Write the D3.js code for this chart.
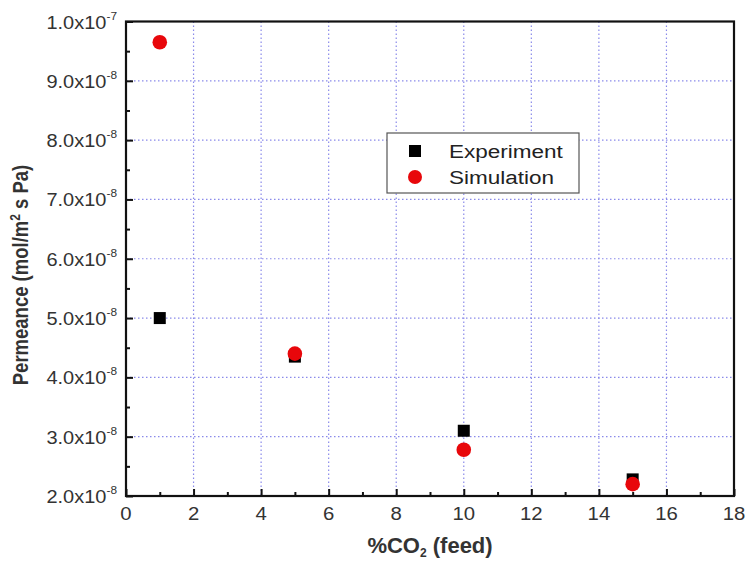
<!DOCTYPE html>
<html>
<head>
<meta charset="utf-8">
<script src="https://cdn.jsdelivr.net/npm/d3@7"></script>
<style>
  body { margin: 0; background: #fff; }
  svg { font-family: Arial, "Liberation Sans", sans-serif; }
</style>
</head>
<body>
<svg id="chart" width="746" height="563"></svg>
<script>
// data
const co2Feed = [1, 5, 10, 15];
const experiment = [5.0e-8, 4.35e-8, 3.1e-8, 2.28e-8];
const simulation = [9.65e-8, 4.4e-8, 2.78e-8, 2.2e-8];
const xTicks = [0, 2, 4, 6, 8, 10, 12, 14, 16, 18];
const yTicks = [2, 3, 4, 5, 6, 7, 8, 9, 10]; // x10^-8
const legendNames = ["Experiment", "Simulation"];

const margin = { top: 21.5, right: 12, bottom: 67, left: 126 };
const W = 746, H = 563;
const width = W - margin.left - margin.right;
const height = H - margin.top - margin.bottom;

const svg = d3.select("#chart");
const g = svg.append("g").attr("transform", `translate(${margin.left},${margin.top})`);

const x = d3.scaleLinear().domain([0, 18]).range([0, width]);
const y = d3.scaleLinear().domain([2e-8, 1e-7]).range([height, 0]);

// the source picture is stretched sideways a bit, so text gets a scaleX
const stretch = 1.1;

// grid
const gridColor = "#8a8aea";
g.append("g").selectAll("line")
  .data(xTicks.filter(d => d > 0 && d < 18))
  .join("line")
    .attr("x1", d => x(d)).attr("x2", d => x(d))
    .attr("y1", 0).attr("y2", height)
    .attr("stroke", gridColor).attr("stroke-width", 1.2)
    .attr("stroke-dasharray", "1.5,2.5");
g.append("g").selectAll("line")
  .data(yTicks.filter(d => d > 2 && d < 10))
  .join("line")
    .attr("x1", 0).attr("x2", width)
    .attr("y1", d => y(d * 1e-8)).attr("y2", d => y(d * 1e-8))
    .attr("stroke", gridColor).attr("stroke-width", 1.2)
    .attr("stroke-dasharray", "1.5,2.5");

// axes with inward ticks
const xAxis = d3.axisBottom(x).tickValues(xTicks).tickSize(-7).tickFormat("");
const xMinor = d3.axisBottom(x).tickValues(d3.range(1, 18, 2)).tickSize(-4).tickFormat("");
const yAxis = d3.axisLeft(y).tickValues(yTicks.map(v => v * 1e-8)).tickSize(-7).tickFormat("");
const yMinor = d3.axisLeft(y).tickValues(d3.range(2.5, 10, 1).map(v => v * 1e-8)).tickSize(-4).tickFormat("");

function styleAxis(sel) {
  sel.select(".domain").remove();
  sel.selectAll("line").attr("stroke", "#111").attr("stroke-width", 2);
}
g.append("g").attr("transform", `translate(0,${height})`).call(xAxis).call(styleAxis);
g.append("g").attr("transform", `translate(0,${height})`).call(xMinor).call(styleAxis);
g.append("g").call(yAxis).call(styleAxis);
g.append("g").call(yMinor).call(styleAxis);

// x tick labels
g.append("g").selectAll("text")
  .data(xTicks)
  .join("text")
    .attr("transform", d => `translate(${x(d)},${height + 24}) scale(${stretch},1)`)
    .attr("text-anchor", "middle")
    .attr("fill", "#333")
    .style("font-size", "18.5px")
    .text(d => d);

// y tick labels with superscripts
const yLab = g.append("g").selectAll("text")
  .data(yTicks)
  .join("text")
    .attr("transform", d => `translate(-9,${y(d * 1e-8) + 7}) scale(1.08,1)`)
    .attr("text-anchor", "end")
    .attr("fill", "#333")
    .style("font-size", "18.5px");
yLab.append("tspan").text(d => d === 10 ? "1.0x10" : d.toFixed(1) + "x10");
yLab.append("tspan").attr("dy", -9).style("font-size", "11px").text(d => d === 10 ? "-7" : "-8");

// frame
g.append("rect").attr("width", width).attr("height", height)
  .attr("fill", "none").attr("stroke", "#111").attr("stroke-width", 2.2);

// points
g.append("g").selectAll("rect")
  .data(co2Feed.map((c, i) => [c, experiment[i]]))
  .join("rect")
    .attr("x", d => x(d[0]) - 6).attr("y", d => y(d[1]) - 6)
    .attr("width", 12).attr("height", 12).attr("fill", "#000");
g.append("g").selectAll("circle")
  .data(co2Feed.map((c, i) => [c, simulation[i]]))
  .join("circle")
    .attr("cx", d => x(d[0])).attr("cy", d => y(d[1]))
    .attr("r", 7.3).attr("fill", "#e8070b");

// legend
const lg = svg.append("g").attr("transform", "translate(387,133)");
lg.append("rect").attr("width", 192).attr("height", 60)
  .attr("fill", "#fff").attr("stroke", "#555").attr("stroke-width", 1.2);
lg.append("rect").attr("x", 22).attr("y", 12).attr("width", 12).attr("height", 12).attr("fill", "#000");
lg.append("circle").attr("cx", 28).attr("cy", 44).attr("r", 7).attr("fill", "#e8070b");
lg.selectAll("text.leg").data(legendNames).join("text")
  .attr("class", "leg")
  .attr("transform", (d, i) => `translate(62,${25 + i * 26}) scale(1.25,1)`)
  .attr("fill", "#222").style("font-size", "18px")
  .text(d => d);

// axis titles
const xt = svg.append("text")
  .attr("x", 430).attr("y", 553)
  .attr("text-anchor", "middle").attr("fill", "#333")
  .style("font-size", "22px").style("font-weight", "bold");
xt.append("tspan").text("%CO");
xt.append("tspan").attr("dy", 4).style("font-size", "12px").text("2");
xt.append("tspan").attr("dy", -4).text(" (feed)");

const yt = svg.append("text")
  .attr("transform", "translate(28,275) rotate(-90) scale(1,1.2)")
  .attr("text-anchor", "middle").attr("fill", "#333")
  .style("font-size", "18.5px").style("font-weight", "bold");
yt.append("tspan").text("Permeance (mol/m");
yt.append("tspan").attr("dy", -7).style("font-size", "12px").text("2");
yt.append("tspan").attr("dy", 7).text(" s Pa)");
</script>
</body>
</html>
